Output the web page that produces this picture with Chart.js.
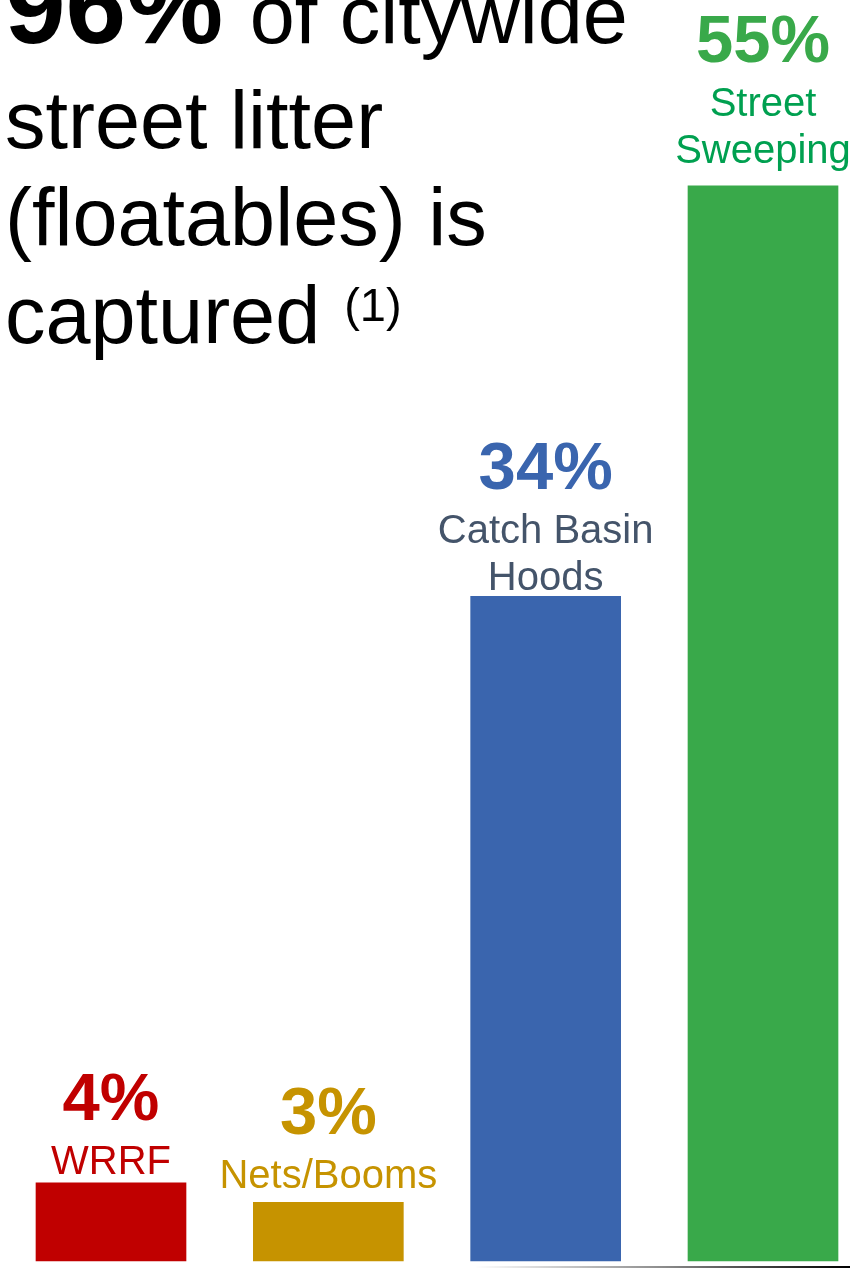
<!DOCTYPE html>
<html>
<head>
<meta charset="utf-8">
<script src="https://cdn.jsdelivr.net/npm/chart.js@4/dist/chart.umd.min.js"></script>
<style>
  html, body { margin: 0; padding: 0; background: #fff; overflow: hidden; }
</style>
</head>
<body>
<canvas id="litterChart" width="850" height="1268"></canvas>
<script>
// captured share of street litter, by method
var categories = ["WRRF", "Nets/Booms", "Catch Basin Hoods", "Street Sweeping"];
var nameLines = [["WRRF"], ["Nets/Booms"], ["Catch Basin", "Hoods"], ["Street", "Sweeping"]];
var shares = [4, 3, 34, 55];
var totalCaptured = 96;

var barColors = ["#C00000", "#C69300", "#3A65AE", "#39A94A"];
var nameColors = ["#C00000", "#C69300", "#44546A", "#00A050"];

var FONT = '"Liberation Sans", Arial, sans-serif';

// headline in the top left corner, bold number + regular text
var headlinePlugin = {
    id: 'headline',
    afterDraw: function (chart) {
        var ctx = chart.ctx;
        ctx.save();
        ctx.fillStyle = "#000";
        ctx.textAlign = "left";
        ctx.textBaseline = "alphabetic";

        var x = 5;
        ctx.font = "bold 109px " + FONT;
        var big = totalCaptured + "%";
        ctx.fillText(big, x, 43);
        var w = ctx.measureText(big).width;

        ctx.font = "81px " + FONT;
        ctx.fillText(" of citywide", x + w + 4, 43);
        ctx.fillText("street litter", x, 148);
        ctx.fillText("(floatables) is", x, 245);
        ctx.fillText("captured", x, 343);
        var cw = ctx.measureText("captured").width;

        // footnote marker
        ctx.font = "47px " + FONT;
        ctx.fillText("(1)", x + cw + 24, 321);
        ctx.restore();
    }
};

// percentage and name stacked above each bar
var barLabelPlugin = {
    id: 'barLabels',
    afterDatasetsDraw: function (chart, args, opts) {
        var ctx = chart.ctx;
        var meta = chart.getDatasetMeta(0);
        ctx.save();
        ctx.textAlign = "center";
        ctx.textBaseline = "alphabetic";
        meta.data.forEach(function (bar, i) {
            var lines = nameLines[i];
            var y = bar.y - opts.gap[i];
            ctx.font = "40px " + FONT;
            ctx.fillStyle = nameColors[i];
            for (var k = lines.length - 1; k >= 0; k--) {
                ctx.fillText(lines[k], bar.x, y);
                if (k > 0) y -= 47;
            }
            y -= 54;
            ctx.font = "bold 67px " + FONT;
            ctx.fillStyle = barColors[i];
            ctx.fillText(shares[i] + "%", bar.x, y);
        });
        ctx.restore();
    }
};

// thin fading rule along the bottom edge
var baseRulePlugin = {
    id: 'baseRule',
    afterDraw: function (chart) {
        var ctx = chart.ctx;
        var g = ctx.createLinearGradient(475, 0, 850, 0);
        g.addColorStop(0, "rgba(0,0,0,0)");
        g.addColorStop(0.5, "rgba(0,0,0,0.45)");
        g.addColorStop(1, "rgba(0,0,0,1)");
        ctx.save();
        ctx.fillStyle = g;
        ctx.fillRect(475, 1266, 375, 2);
        ctx.restore();
    }
};

var ctx = document.getElementById("litterChart").getContext('2d');
var litterChart = new Chart(ctx, {
    type: 'bar',
    data: {
        labels: categories,
        datasets: [{
            data: shares,
            backgroundColor: barColors,
            borderWidth: 0,
            barThickness: 150,
            clip: false
        }]
    },
    options: {
        responsive: false,
        animation: false,
        layout: {
            padding: { left: 111, right: 87, top: 88, bottom: 7 }
        },
        scales: {
            x: { display: false, offset: false },
            y: { display: false, min: 0, max: 60 }
        },
        plugins: {
            legend: { display: false },
            tooltip: { enabled: false },
            barLabels: { gap: [9, 14, 6, 23] }
        }
    },
    plugins: [barLabelPlugin, headlinePlugin, baseRulePlugin]
});
</script>
</body>
</html>
